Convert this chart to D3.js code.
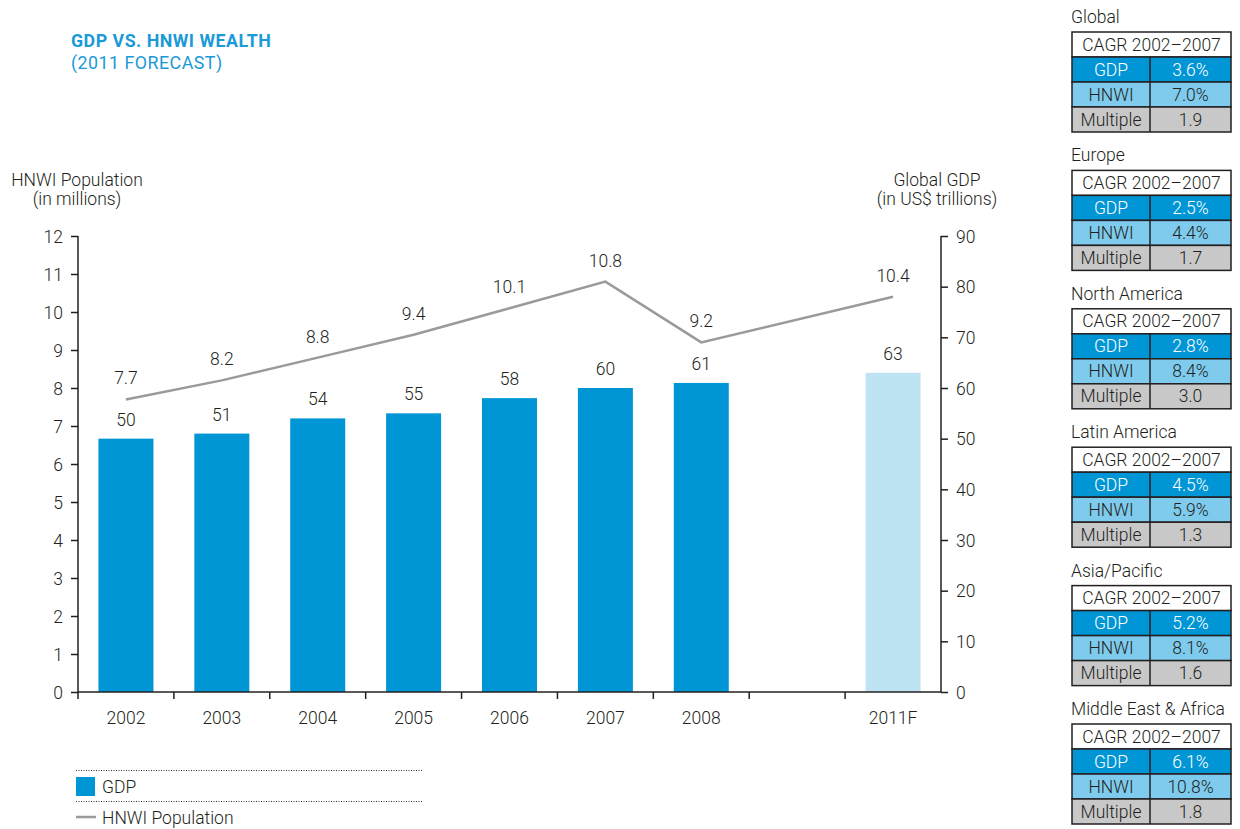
<!DOCTYPE html>
<html><head><meta charset="utf-8">
<script src="https://cdn.jsdelivr.net/npm/d3@7"></script>
<style>
body{margin:0;background:#fff;}
text{font-family:Roboto,"Liberation Sans",sans-serif;font-weight:300;fill:#231f20;}
</style></head><body>
<svg id="c" width="1240" height="829"></svg>
<script>
const categories = ["2002","2003","2004","2005","2006","2007","2008","","2011F"];
const gdpValues = [50,51,54,55,58,60,61,null,63];
const hnwiValues = [7.7,8.2,8.8,9.4,10.1,10.8,9.2,null,10.4];
const forecastCats = ["2011F"];
const leftTicks = [0,1,2,3,4,5,6,7,8,9,10,11,12];
const rightTicks = [0,10,20,30,40,50,60,70,80,90];
const regions = ["Global","Europe","North America","Latin America","Asia/Pacific","Middle East & Africa"];
const regionGDP = ["3.6%","2.5%","2.8%","4.5%","5.2%","6.1%"];
const regionHNWI = ["7.0%","4.4%","8.4%","5.9%","8.1%","10.8%"];
const regionMultiple = ["1.9","1.7","3.0","1.3","1.6","1.8"];

const svg = d3.select("#c");
const blue = "#0096d6", light = "#bee3f3", gray = "#9a9a9c";
const x0 = 78, x1 = 941, yTop = 236, yBot = 692;
const fs = "17.5px";

const x = d3.scaleBand().domain(categories.map((c,i)=>i)).range([x0,x1]).paddingInner(0).paddingOuter(0);
const yL = d3.scaleLinear().domain([0,12]).range([yBot,yTop]);
const yR = d3.scaleLinear().domain([0,90]).range([yBot,yTop]);
const bw = 55;

// title
svg.append("text").attr("x",71).attr("y",47).style("font-weight",700).style("fill","#1a9ad6").style("font-size","17.8px").style("letter-spacing","0.5px").text("GDP VS. HNWI WEALTH");
svg.append("text").attr("x",71).attr("y",68.5).style("fill","#1a9ad6").style("font-size","17.8px").style("font-weight",400).style("letter-spacing","0.5px").text("(2011 FORECAST)");

// axis titles
svg.append("text").attr("x",77).attr("y",186).attr("text-anchor","middle").style("font-size",fs).text("HNWI Population");
svg.append("text").attr("x",77).attr("y",205).attr("text-anchor","middle").style("font-size",fs).text("(in millions)");
svg.append("text").attr("x",937).attr("y",186).attr("text-anchor","middle").style("font-size",fs).text("Global GDP");
svg.append("text").attr("x",937).attr("y",205).attr("text-anchor","middle").style("font-size",fs).text("(in US$ trillions)");

// bars
const data = categories.map((c,i)=>({c,i,g:gdpValues[i],h:hnwiValues[i]}));
svg.append("g").selectAll("rect").data(data.filter(d=>d.g!=null)).join("rect")
  .attr("x",d=>x(d.i)+x.bandwidth()/2-bw/2).attr("width",bw)
  .attr("y",d=>yR(d.g)).attr("height",d=>yBot-yR(d.g))
  .attr("fill",d=>forecastCats.includes(d.c)?light:blue);
svg.append("g").selectAll("text").data(data.filter(d=>d.g!=null)).join("text")
  .attr("x",d=>x(d.i)+x.bandwidth()/2).attr("y",d=>yR(d.g)-13)
  .attr("text-anchor","middle").style("font-size",fs).text(d=>d.g);

// line
const ld = data.filter(d=>d.h!=null);
svg.append("path").datum(ld)
  .attr("d",d3.line().x(d=>x(d.i)+x.bandwidth()/2).y(d=>yL(d.h)))
  .attr("fill","none").attr("stroke",gray).attr("stroke-width",2.5);
svg.append("g").selectAll("text").data(ld).join("text")
  .attr("x",d=>x(d.i)+x.bandwidth()/2).attr("y",d=>yL(d.h)-15)
  .attr("text-anchor","middle").style("font-size",fs).text(d=>d.h);

// axes
const axL = svg.append("g").attr("transform",`translate(${x0},0)`).call(d3.axisLeft(yL).tickValues(leftTicks).tickSize(7).tickPadding(8).tickFormat(d3.format("d")));
const axR = svg.append("g").attr("transform",`translate(${x1},0)`).call(d3.axisRight(yR).tickValues(rightTicks).tickSize(7).tickPadding(8).tickFormat(d3.format("d")));
[axL,axR].forEach(a=>{
  a.select(".domain").attr("stroke","#231f20").attr("stroke-width",1.5).attr("d",`M0,${yTop}V${yBot}`);
  a.selectAll(".tick line").attr("stroke","#231f20").attr("stroke-width",1.5);
  a.selectAll(".tick text").style("font-size",fs).style("font-family","Roboto,'Liberation Sans',sans-serif").style("fill","#231f20").attr("dy","0.35em");
});
// x axis
const gx = svg.append("g").attr("transform",`translate(0,${yBot})`);
gx.append("line").attr("x1",x0).attr("x2",x1).attr("stroke","#231f20").attr("stroke-width",1.5);
const bounds = categories.map((c,i)=>x(i));
gx.selectAll("line.t").data(bounds).join("line").attr("class","t")
  .attr("x1",d=>d).attr("x2",d=>d).attr("y1",0).attr("y2",7).attr("stroke","#231f20").attr("stroke-width",1.5);
gx.selectAll("text").data(data).join("text")
  .attr("x",d=>x(d.i)+x.bandwidth()/2).attr("y",32).attr("text-anchor","middle").style("font-size",fs).text(d=>d.c);

// legend
const lg = svg.append("g");
lg.append("line").attr("x1",76).attr("x2",422).attr("y1",770.5).attr("y2",770.5).attr("stroke","#333").attr("stroke-dasharray","1,1.5");
lg.append("line").attr("x1",76).attr("x2",422).attr("y1",801.5).attr("y2",801.5).attr("stroke","#333").attr("stroke-dasharray","1,1.5");
lg.append("rect").attr("x",76).attr("y",777).attr("width",19).attr("height",19).attr("fill",blue);
lg.append("text").attr("x",102).attr("y",793).style("font-size",fs).text("GDP");
lg.append("line").attr("x1",76).attr("x2",96).attr("y1",817).attr("y2",817).attr("stroke",gray).attr("stroke-width",2.5);
lg.append("text").attr("x",102).attr("y",824).style("font-size",fs).text("HNWI Population");

// region tables
const tx = 1072, tw = 159, split = 1150, rh = 25;
regions.forEach((r,i)=>{
  const top = 32 + i*138.4;
  const g = svg.append("g");
  g.append("text").attr("x",tx-1).attr("y",top-9).style("font-size",fs).text(r);
  const rows = [
    {fill:"#fff", a:"CAGR 2002–2007", b:null, col:"#231f20"},
    {fill:blue, a:"GDP", b:regionGDP[i], col:"#fff"},
    {fill:"#7ecbee", a:"HNWI", b:regionHNWI[i], col:"#231f20"},
    {fill:"#c8c8c8", a:"Multiple", b:regionMultiple[i], col:"#231f20"}
  ];
  rows.forEach((row,j)=>{
    const y = top + j*rh;
    g.append("rect").attr("x",tx).attr("y",y).attr("width",tw).attr("height",rh).attr("fill",row.fill).attr("stroke","#231f20").attr("stroke-width",1.5);
    if(row.b===null){
      g.append("text").attr("x",tx+tw/2).attr("y",y+rh/2).attr("dy","0.35em").attr("text-anchor","middle").style("font-size",fs).style("fill",row.col).text(row.a);
    } else {
      g.append("line").attr("x1",split).attr("x2",split).attr("y1",y).attr("y2",y+rh).attr("stroke","#231f20").attr("stroke-width",1.5);
      g.append("text").attr("x",(tx+split)/2).attr("y",y+rh/2).attr("dy","0.35em").attr("text-anchor","middle").style("font-size",fs).style("fill",row.col).text(row.a);
      g.append("text").attr("x",(split+tx+tw)/2).attr("y",y+rh/2).attr("dy","0.35em").attr("text-anchor","middle").style("font-size",fs).style("fill",row.col).text(row.b);
    }
  });
});
</script></body></html>
